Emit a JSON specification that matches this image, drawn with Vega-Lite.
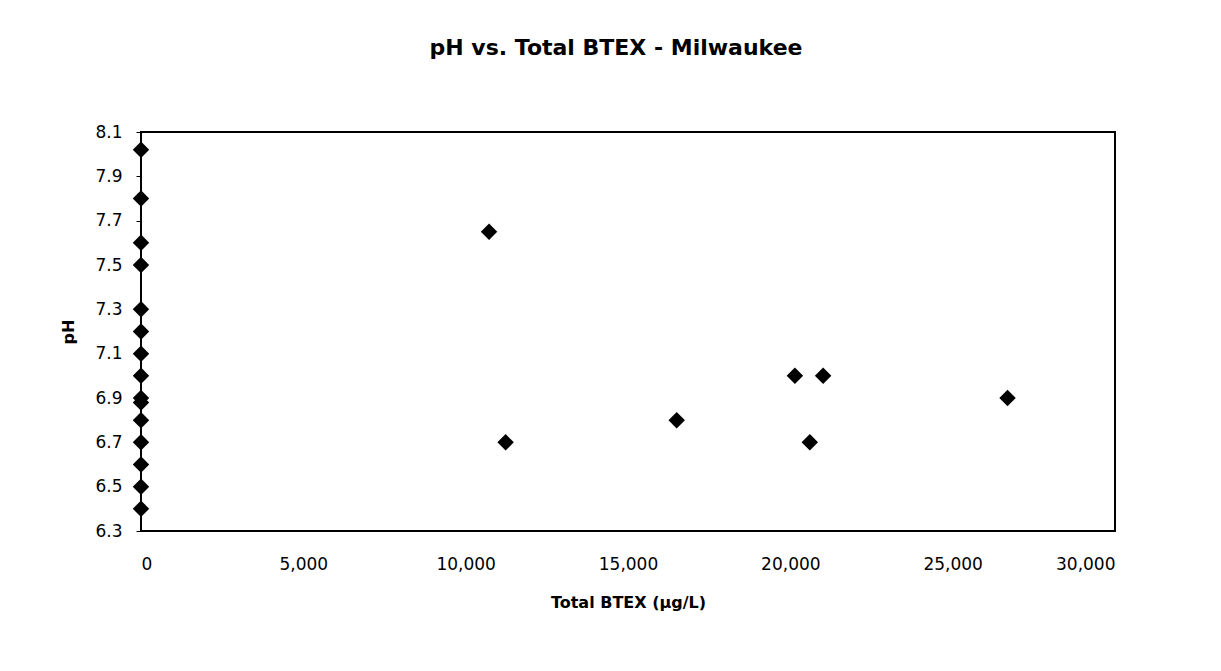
{
  "$schema": "https://vega.github.io/schema/vega-lite/v6.json",
  "width": 974,
  "height": 399,
  "autosize": {"type": "none"},
  "padding": {"left": 141, "top": 132, "right": 106, "bottom": 140},
  "background": "white",
  "title": {
    "text": "pH vs. Total BTEX - Milwaukee",
    "font": "DejaVu Sans",
    "fontSize": 22,
    "fontWeight": "bold",
    "color": "black",
    "anchor": "middle",
    "dx": -12,
    "offset": 63
  },
  "data": {
    "values": [
      {"btex": 0, "ph": 8.02},
      {"btex": 0, "ph": 7.8},
      {"btex": 0, "ph": 7.6},
      {"btex": 0, "ph": 7.5},
      {"btex": 0, "ph": 7.3},
      {"btex": 0, "ph": 7.2},
      {"btex": 0, "ph": 7.1},
      {"btex": 0, "ph": 7.0},
      {"btex": 0, "ph": 6.9},
      {"btex": 0, "ph": 6.88},
      {"btex": 0, "ph": 6.8},
      {"btex": 0, "ph": 6.7},
      {"btex": 0, "ph": 6.6},
      {"btex": 0, "ph": 6.5},
      {"btex": 0, "ph": 6.4},
      {"btex": 10720, "ph": 7.65},
      {"btex": 11230, "ph": 6.7},
      {"btex": 16500, "ph": 6.8},
      {"btex": 20140, "ph": 7.0},
      {"btex": 21010, "ph": 7.0},
      {"btex": 20600, "ph": 6.7},
      {"btex": 26690, "ph": 6.9}
    ]
  },
  "mark": {"type": "point", "shape": "diamond", "filled": true, "color": "black", "opacity": 1, "size": 270},
  "encoding": {
    "x": {
      "field": "btex",
      "type": "quantitative",
      "scale": {"domain": [0, 30000], "nice": false, "zero": false},
      "axis": {
        "title": "Total BTEX (µg/L)",
        "values": [0, 5000, 10000, 15000, 20000, 25000, 30000],
        "format": ",.0f",
        "grid": false,
        "ticks": false,
        "domain": false,
        "labelPadding": 25,
        "labelFont": "DejaVu Sans",
        "labelFontSize": 17,
        "labelColor": "black",
        "titleFont": "DejaVu Sans",
        "titleFontSize": 16,
        "titleFontWeight": "bold",
        "titleColor": "black",
        "titlePadding": 22
      }
    },
    "y": {
      "field": "ph",
      "type": "quantitative",
      "scale": {"domain": [6.3, 8.1], "nice": false, "zero": false},
      "axis": {
        "title": "pH",
        "values": [6.3, 6.5, 6.7, 6.9, 7.1, 7.3, 7.5, 7.7, 7.9, 8.1],
        "format": ".1f",
        "grid": false,
        "ticks": true,
        "tickSize": 5,
        "tickColor": "black",
        "domain": false,
        "labelPadding": 14,
        "labelFont": "DejaVu Sans",
        "labelFontSize": 17,
        "labelColor": "black",
        "titleFont": "DejaVu Sans",
        "titleFontSize": 16,
        "titleFontWeight": "bold",
        "titleColor": "black",
        "titlePadding": 18
      }
    }
  },
  "config": {
    "view": {"stroke": "black", "strokeWidth": 2}
  }
}
